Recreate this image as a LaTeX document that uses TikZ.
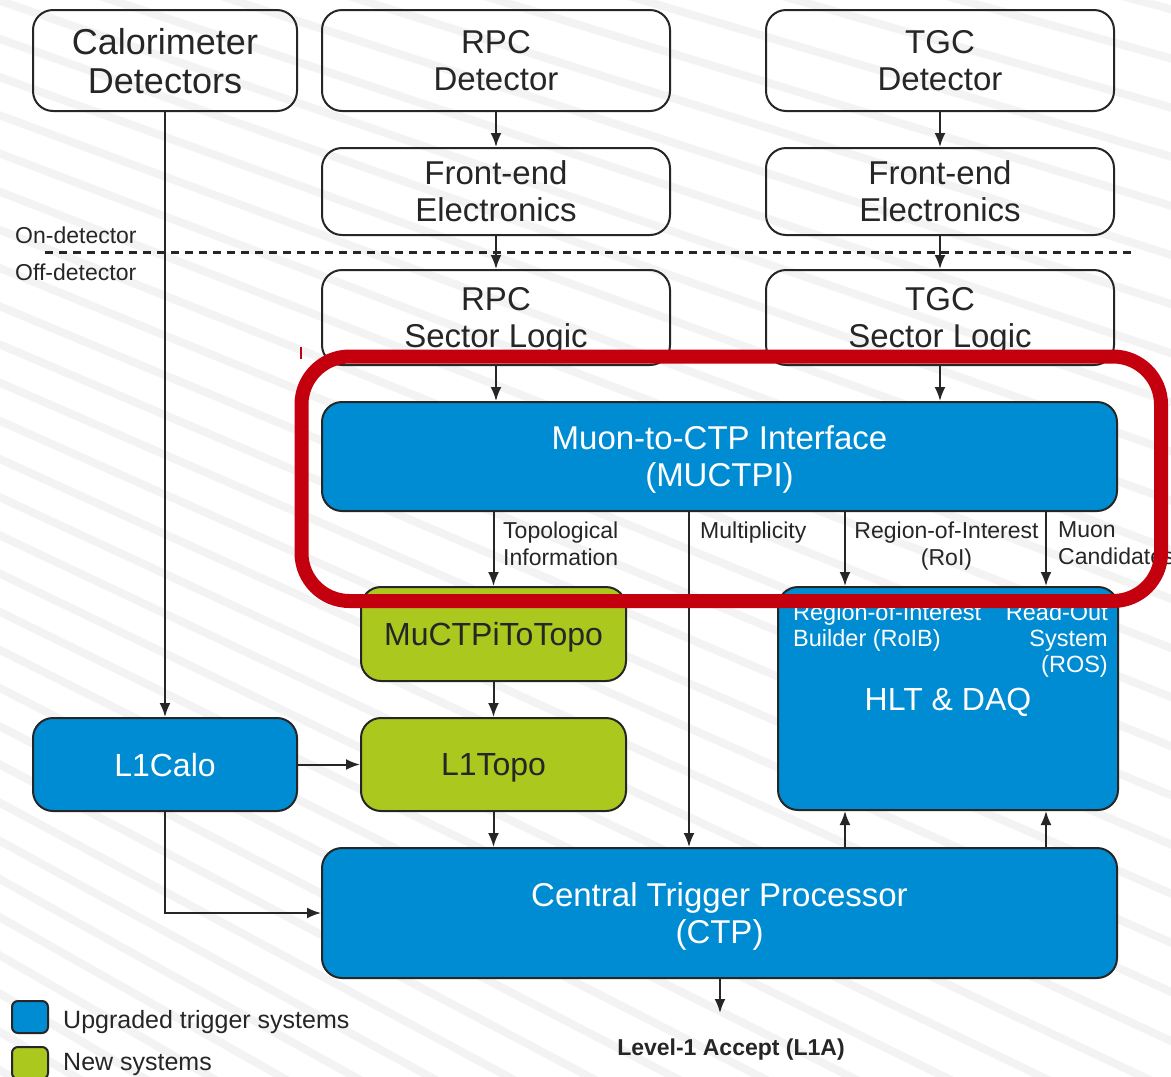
\documentclass[tikz,border=0pt]{standalone}
\usepackage{fontspec}
\setmainfont{Liberation Sans}
\usetikzlibrary{arrows.meta,calc}
\definecolor{upblue}{RGB}{0,140,210}
\definecolor{newgreen}{RGB}{170,200,30}
\definecolor{ink}{RGB}{38,38,38}
\definecolor{hilite}{RGB}{196,0,14}
\definecolor{stripe}{RGB}{243,243,243}
\newcommand\fsz[2]{\fontsize{#1}{#2}\selectfont}
\begin{document}
\begin{tikzpicture}[x=1pt,y=-1pt,
  outline/.style={draw=ink,line width=2pt,rounded corners=20pt,inner sep=0pt,align=center,text depth=0pt},
  plainbox/.style={outline,text=ink},
  bluebox/.style={outline,fill=upblue,text=white},
  greenbox/.style={outline,fill=newgreen,text=ink},
  boxtext/.style={font=\fsz{33}{37}},
  lbl/.style={font=\fsz{23}{27},text=ink,inner sep=0pt,text depth=0pt},
  hlttext/.style={font=\fsz{23.5}{26},text=white,inner sep=0pt,text depth=0pt},
  arr/.style={draw=ink,line width=2pt,-{Latex[length=14pt,width=11pt]}},
  legendbox/.style={draw=ink,line width=2pt,rounded corners=6pt,minimum width=36pt,minimum height=32pt,inner sep=0pt}]
\useasboundingbox (0,0) rectangle (1171,1077);
\fill[white] (0,0) rectangle (1171,1077);

% faint diagonal banding of the backdrop
\begin{scope}
  \clip (0,0) rectangle (1171,1077);
  \foreach \c in {-500,-462,...,1100}
    \draw[stripe,line width=8pt] (-20,\c) -- (1200,\c+420+0.3*\c);
\end{scope}

% detectors and front-end electronics
\node[plainbox,font=\fsz{36}{39},minimum width=264pt,minimum height=101pt] (calo) at (165,60.5) {Calorimeter\\Detectors};
\node[plainbox,boxtext,minimum width=348pt,minimum height=101pt] (rpcdet) at (496,60.5) {RPC\\Detector};
\node[plainbox,boxtext,minimum width=348pt,minimum height=101pt] (tgcdet) at (940,60.5) {TGC\\Detector};
\node[plainbox,boxtext,minimum width=348pt,minimum height=87pt] (rpcfe) at (496,191.5) {Front-end\\Electronics};
\node[plainbox,boxtext,minimum width=348pt,minimum height=87pt] (tgcfe) at (940,191.5) {Front-end\\Electronics};
\node[plainbox,boxtext,minimum width=348pt,minimum height=95pt] (rpcsl) at (496,317.5) {RPC\\Sector Logic};
\node[plainbox,boxtext,minimum width=348pt,minimum height=95pt] (tgcsl) at (940,317.5) {TGC\\Sector Logic};

% on/off detector boundary
\draw[ink,line width=3pt,dash pattern=on 8pt off 6pt] (45,252) -- (1135,252);
\node[lbl,anchor=west] (ondet) at (15,235) {On-detector};
\node[lbl,anchor=west] (offdet) at (15,272) {Off-detector};

% trigger and readout systems
\node[bluebox,boxtext,minimum width=795pt,minimum height=109pt] (muctpi) at (719.5,456.5) {Muon-to-CTP Interface\\(MUCTPI)};
\node[greenbox,font=\fsz{32}{36},minimum width=265pt,minimum height=94pt] (m2t) at (493.5,634) {MuCTPiToTopo};
\node[greenbox,font=\fsz{32}{36},minimum width=265pt,minimum height=93pt] (l1topo) at (493.5,764.5) {L1Topo};
\node[bluebox,font=\fsz{32}{36},minimum width=264pt,minimum height=93pt] (l1calo) at (165,764.5) {L1Calo};
\node[bluebox,font=\fsz{32}{36},minimum width=340pt,minimum height=223pt] (hlt) at (948,698.5) {};
\node[hlttext,font=\fsz{32}{36}] (hltname) at (948,699) {HLT \& DAQ};
\node[hlttext,anchor=west,align=left] (roib) at (793,625) {Region-of-Interest\\Builder (RoIB)};
\node[hlttext,anchor=east,align=right] (ros) at (1108,638) {Read-Out\\System\\(ROS)};
\node[bluebox,boxtext,minimum width=795pt,minimum height=130pt] (ctp) at (719.5,913) {Central Trigger Processor\\(CTP)};

% column positions of the MUCTPI outputs
\coordinate (xmult) at (689,0);
\coordinate (xroi) at (845,0);
\coordinate (xcand) at (1046,0);
\coordinate (l1aend) at (720,1013);

% connectors
\draw[arr] (rpcdet) -- (rpcfe);
\draw[arr] (tgcdet) -- (tgcfe);
\draw[arr] (rpcfe) -- (rpcsl);
\draw[arr] (tgcfe) -- (tgcsl);
\draw[arr] (rpcsl.south) -- (rpcsl.south |- muctpi.north);
\draw[arr] (tgcsl.south) -- (tgcsl.south |- muctpi.north);
\draw[arr] (muctpi.south -| m2t) -- (m2t.north);
\draw[arr] (muctpi.south -| xmult) -- (ctp.north -| xmult);
\draw[arr] (muctpi.south -| xroi) -- (hlt.north -| xroi);
\draw[arr] (muctpi.south -| xcand) -- (hlt.north -| xcand);
\draw[arr] (m2t) -- (l1topo);
\draw[arr] (calo) -- (l1calo);
\draw[arr] (l1calo) -- (l1topo);
\draw[arr] (l1calo.south) |- (ctp.west);
\draw[arr] (l1topo.south) -- (ctp.north -| l1topo);
\draw[arr] (ctp.north -| xroi) -- (hlt.south -| xroi);
\draw[arr] (ctp.north -| xcand) -- (hlt.south -| xcand);
\draw[arr] (ctp.south -| l1aend) -- (l1aend);

% connector labels
\node[lbl,anchor=west,align=left] (toplbl) at (503,543.5) {Topological\\Information};
\node[lbl,anchor=west] (multlbl) at (700,530) {Multiplicity};
\node[lbl,align=center] (roilbl) at (946.5,543.5) {Region-of-Interest\\(RoI)};
\node[lbl,anchor=west,align=left] (candlbl) at (1058,543.5) {Muon\\Candidates};
\node[lbl,font=\fsz{23}{27}\bfseries] (l1a) at (731,1047) {Level-1 Accept (L1A)};

% legend
\node[legendbox,fill=upblue] (legblue) at (30,1017) {};
\node[lbl,anchor=west,font=\fsz{25}{30}] (legbluetxt) at (63,1019) {Upgraded trigger systems};
\node[legendbox,fill=newgreen] (leggreen) at (30,1063) {};
\node[lbl,anchor=west,font=\fsz{25}{30}] (leggreentxt) at (63,1062) {New systems};

% highlight around the MUCTPI
\draw[hilite,line width=14pt,rounded corners=48pt] (301.5,356.5) rectangle (1161,601);
\draw[hilite,line width=1.6pt] (301,347) -- (301,359);
\end{tikzpicture}
\end{document}
